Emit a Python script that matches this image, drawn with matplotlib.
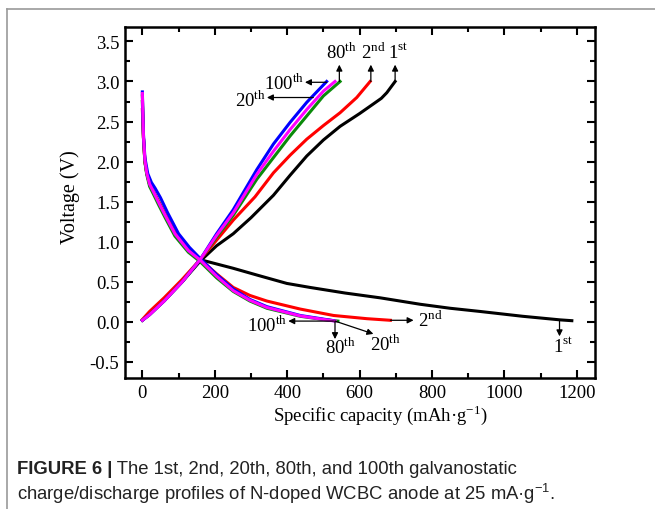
import matplotlib
matplotlib.use('Agg')
import matplotlib.pyplot as plt
from matplotlib.lines import Line2D
from matplotlib.ticker import MultipleLocator

plt.rcParams['font.family'] = ['Liberation Serif', 'DejaVu Serif']
plt.rcParams['mathtext.fontset'] = 'custom'
plt.rcParams['mathtext.rm'] = 'Liberation Serif'
plt.rcParams['axes.unicode_minus'] = False

# discharge profiles (capacity in mAh/g, voltage in V)
dis1_cap = [0, 3, 7, 12, 20, 30, 45, 63, 90, 127, 165, 250, 320, 399, 463, 560, 657, 767, 850, 933, 1050, 1154, 1186]
dis1_v = [2.75, 2.3, 2.0, 1.86, 1.72, 1.63, 1.5, 1.34, 1.11, 0.9, 0.77, 0.67, 0.58, 0.48, 0.43, 0.36, 0.30, 0.22, 0.17, 0.13, 0.07, 0.025, 0.015]
dis2_cap = [0, 3, 7, 12, 20, 30, 45, 63, 90, 127, 160, 205, 251, 297, 344, 436, 528, 620, 685]
dis2_v = [2.65, 2.3, 2.0, 1.86, 1.72, 1.63, 1.5, 1.34, 1.11, 0.91, 0.78, 0.6, 0.43, 0.33, 0.26, 0.16, 0.08, 0.04, 0.02]
dis20_cap = [0, 3, 7, 12, 20, 30, 45, 63, 90, 127, 160, 205, 251, 297, 344, 436, 500, 540]
dis20_v = [2.82, 2.3, 2.0, 1.84, 1.69, 1.6, 1.46, 1.3, 1.07, 0.87, 0.75, 0.55, 0.38, 0.26, 0.17, 0.07, 0.03, 0.01]
dis80_cap = [0, 3, 7, 12, 20, 30, 45, 63, 90, 127, 160, 205, 251, 297, 344, 436, 500, 532]
dis80_v = [2.85, 2.32, 2.02, 1.86, 1.72, 1.63, 1.49, 1.33, 1.1, 0.89, 0.77, 0.57, 0.39, 0.27, 0.18, 0.075, 0.03, 0.01]
dis100_cap = [0, 3, 7, 15, 25, 35, 50, 70, 100, 130, 160, 205, 251, 297, 344, 436, 500, 528]
dis100_v = [2.87, 2.35, 2.05, 1.85, 1.74, 1.67, 1.55, 1.36, 1.1, 0.93, 0.79, 0.59, 0.41, 0.28, 0.19, 0.08, 0.035, 0.015]

# charge profiles
ch1_cap = [0, 20, 60, 110, 160, 205, 251, 300, 362, 408, 454, 500, 546, 600, 638, 660, 675, 698]
ch1_v = [0.02, 0.1, 0.27, 0.5, 0.76, 0.95, 1.1, 1.3, 1.58, 1.83, 2.07, 2.27, 2.44, 2.6, 2.72, 2.79, 2.86, 3.0]
ch2_cap = [0, 20, 60, 110, 160, 205, 251, 311, 362, 408, 454, 500, 546, 592, 629]
ch2_v = [0.03, 0.13, 0.3, 0.53, 0.78, 1.02, 1.27, 1.56, 1.86, 2.08, 2.28, 2.45, 2.61, 2.80, 3.0]
ch20_cap = [0, 20, 60, 110, 160, 205, 251, 316, 362, 408, 454, 500, 546]
ch20_v = [0.02, 0.09, 0.26, 0.5, 0.78, 1.06, 1.33, 1.78, 2.05, 2.32, 2.57, 2.82, 3.0]
ch80_cap = [0, 20, 60, 110, 160, 205, 251, 316, 362, 408, 454, 500, 532]
ch80_v = [0.02, 0.09, 0.26, 0.5, 0.78, 1.08, 1.36, 1.84, 2.13, 2.40, 2.65, 2.88, 3.0]
ch100_cap = [0, 20, 60, 110, 160, 205, 251, 316, 362, 408, 454, 509]
ch100_v = [0.02, 0.09, 0.26, 0.5, 0.78, 1.10, 1.40, 1.90, 2.22, 2.49, 2.74, 3.0]

fig = plt.figure(figsize=(6.55, 5.1), dpi=100)
ax = fig.add_axes([0.1908, 0.2569, 0.7176, 0.6882])

lw = 2.2
ax.plot(dis1_cap, dis1_v, color='black', lw=lw)
ax.plot(ch1_cap, ch1_v, color='black', lw=lw)
ax.plot(dis2_cap, dis2_v, color='red', lw=lw)
ax.plot(ch2_cap, ch2_v, color='red', lw=lw)
ax.plot(dis20_cap, dis20_v, color='#0a8a0a', lw=lw)
ax.plot(ch20_cap, ch20_v, color='#0a8a0a', lw=lw)
ax.plot(dis100_cap, dis100_v, color='blue', lw=lw)
ax.plot(ch100_cap, ch100_v, color='blue', lw=lw)
ax.plot(dis80_cap, dis80_v, color='magenta', lw=lw)
ax.plot(ch80_cap, ch80_v, color='magenta', lw=lw)

ax.set_xlim(-48, 1250)
ax.set_ylim(-0.70, 3.68)
ax.xaxis.set_major_locator(MultipleLocator(200))
ax.xaxis.set_minor_locator(MultipleLocator(100))
ax.yaxis.set_major_locator(MultipleLocator(0.5))
ax.yaxis.set_minor_locator(MultipleLocator(0.25))
ax.tick_params(which='both', direction='in', top=True, right=True, width=1.5, labelsize=13.5, pad=4)
ax.tick_params(which='major', length=6)
ax.tick_params(which='minor', length=3.5)
ax.tick_params(axis='x', which='major', pad=4)
for s in ax.spines.values():
    s.set_linewidth(1.8)

ax.set_xlabel('Specific capacity (mAh·g$^{\\mathrm{-1}}$)', fontsize=13.5, labelpad=0)
ax.set_ylabel('Voltage (V)', fontsize=14.5)
ax.xaxis.set_label_coords(0.543, -0.07)
ax.yaxis.set_label_coords(-0.096, 0.518)

arr = dict(arrowstyle='-|>', color='black', lw=0.9, mutation_scale=9, shrinkA=0, shrinkB=0)
fs = 13.5

# charge end labels
ax.annotate('', xy=(544, 3.21), xytext=(544, 3.0), arrowprops=arr)
ax.text(549, 3.24, '80$^{\\mathrm{th}}$', fontsize=fs, ha='center', va='bottom')
ax.annotate('', xy=(631, 3.21), xytext=(631, 3.0), arrowprops=arr)
ax.text(637, 3.24, '2$^{\\mathrm{nd}}$', fontsize=fs, ha='center', va='bottom')
ax.annotate('', xy=(698, 3.21), xytext=(698, 3.0), arrowprops=arr)
ax.text(706, 3.24, '1$^{\\mathrm{st}}$', fontsize=fs, ha='center', va='bottom')
ax.annotate('', xy=(449, 2.99), xytext=(509, 2.99), arrowprops=arr)
ax.text(447, 2.99, '100$^{\\mathrm{th}}$', fontsize=fs, ha='right', va='center')
ax.annotate('', xy=(344, 2.80), xytext=(472, 2.80), arrowprops=arr)
ax.text(342, 2.78, '20$^{\\mathrm{th}}$', fontsize=fs, ha='right', va='center')

# discharge end labels
ax.annotate('', xy=(403, 0.01), xytext=(528, 0.01), arrowprops=arr)
ax.text(400, -0.03, '100$^{\\mathrm{th}}$', fontsize=fs, ha='right', va='center')
ax.annotate('', xy=(532, -0.215), xytext=(532, 0.01), arrowprops=arr)
ax.text(546, -0.31, '80$^{\\mathrm{th}}$', fontsize=fs, ha='center', va='center')
ax.annotate('', xy=(638, -0.15), xytext=(532, 0.01), arrowprops=arr)
ax.text(672, -0.27, '20$^{\\mathrm{th}}$', fontsize=fs, ha='center', va='center')
ax.annotate('', xy=(749, 0.02), xytext=(685, 0.02), arrowprops=arr)
ax.text(760, 0.03, '2$^{\\mathrm{nd}}$', fontsize=fs, ha='left', va='center')
ax.annotate('', xy=(1152, -0.18), xytext=(1152, 0.02), arrowprops=arr)
ax.text(1163, -0.30, '1$^{\\mathrm{st}}$', fontsize=fs, ha='center', va='center')

# page frame
fig.add_artist(Line2D([7 / 655, 7 / 655], [0, 1 - 10 / 510], color='#9a9a9a', lw=1.2))
fig.add_artist(Line2D([7 / 655, 1], [1 - 10 / 510, 1 - 10 / 510], color='#9a9a9a', lw=1.2))

# caption
cap_font = ['Liberation Sans', 'DejaVu Sans']
t1 = fig.text(17 / 655, 1 - 474 / 510, 'FIGURE 6 |', fontsize=13.3, fontweight='bold',
              family=cap_font, color='#222222', va='baseline')
ax.annotate(' The 1st, 2nd, 20th, 80th, and 100th galvanostatic', xy=(1, 0), xycoords=t1,
            fontsize=13.3, family=cap_font, color='#222222', va='bottom', annotation_clip=False)
fig.text(17 / 655, 1 - 500 / 510,
         'charge/discharge profiles of N-doped WCBC anode at 25 mA·g$^{\\mathregular{-1}}$.',
         fontsize=13.3, family=cap_font, color='#222222', va='baseline')

fig.savefig('out.png', dpi=100)
